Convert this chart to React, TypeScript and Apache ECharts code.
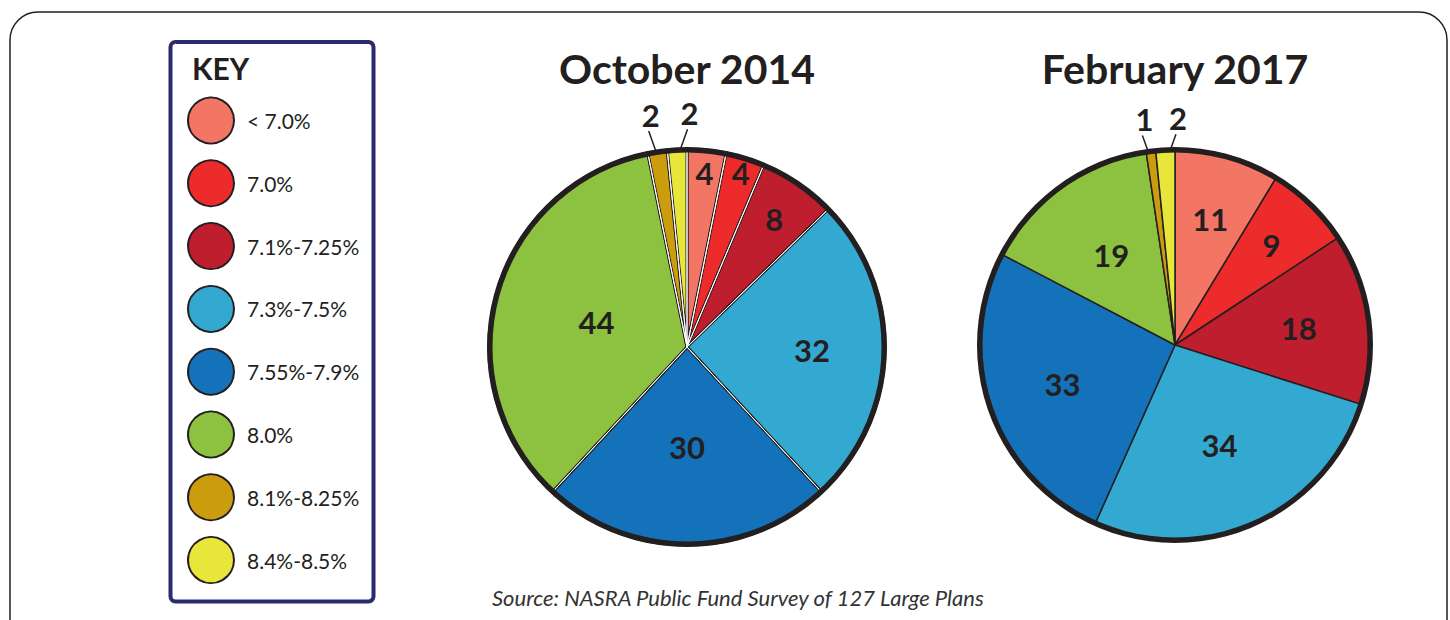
import { useEffect, useRef } from 'react';
import * as echarts from 'echarts';

// ---- data ----
const categories = ['< 7.0%', '7.0%', '7.1%-7.25%', '7.3%-7.5%', '7.55%-7.9%', '8.0%', '8.1%-8.25%', '8.4%-8.5%'];
const oct2014 = [4, 4, 8, 32, 30, 44, 2, 2];
const feb2017 = [11, 9, 18, 34, 33, 19, 1, 2];
const chartTitles = ['October 2014', 'February 2017'];
const keyTitle = 'KEY';
const sourceNote = 'Source: NASRA Public Fund Survey of 127 Large Plans';

// ---- styles / layout ----
const colors = ['#F37564', '#EE2B2B', '#BE1E2D', '#33A9D1', '#1372B9', '#8CC23F', '#CB9C0D', '#E8E53B'];
const INK = '#231F20';
const NAVY = '#2A2A6E';
const FONT = 'Lato, "Open Sans", sans-serif';
const CLEAR = 'rgba(0,0,0,0)';

type PieLayout = {
  values: number[];
  title: string;
  cx: number;
  cy: number;
  R: number;
  doubleSep: boolean;
  insideDist: (number | null)[]; // label distance from centre (px), null => outside label
  outsideR: number;
};

const pies: PieLayout[] = [
  { values: oct2014, title: chartTitles[0], cx: 687, cy: 347, R: 200, doubleSep: true,
    insideDist: [175, 182, 155, 125, 100, 94, null, null], outsideR: 190 },
  { values: feb2017, title: chartTitles[1], cx: 1175, cy: 345, R: 198, doubleSep: false,
    insideDist: [131, 139, 125, 109, 119, 110, null, null], outsideR: 183 },
];

const numLabel = { fontFamily: FONT, fontSize: 31, fontWeight: 'bold' as const, color: INK };

function buildSeries(p: PieLayout) {
  const data = p.values.map((v, i) => ({ name: categories[i], value: v }));
  const base: any = {
    type: 'pie',
    center: [p.cx, p.cy],
    startAngle: 90,
    clockwise: true,
    silent: true,
    avoidLabelOverlap: false,
    emphasis: { disabled: true },
    label: { show: false },
    labelLine: { show: false },
  };
  const out: any[] = [];
  out.push({
    ...base,
    name: p.title,
    radius: [0, p.R - 2],
    data: data.map((d, i) => ({ ...d, itemStyle: { color: colors[i] } })),
    itemStyle: { borderColor: INK, borderWidth: p.doubleSep ? 3 : 1.5 },
  });
  if (p.doubleSep) {
    out.push({
      ...base,
      radius: [0, p.R - 2],
      data,
      itemStyle: { color: CLEAR, borderColor: '#ffffff', borderWidth: 1 },
    });
  }
  out.push({
    ...base,
    radius: [p.R - 5.5, p.R],
    data: [{ name: '', value: 1 }],
    itemStyle: { color: INK, borderWidth: 0 },
  });
  p.insideDist.forEach((d, i) => {
    if (d == null) return;
    out.push({
      ...base,
      radius: [0, 2 * (d - 3)],
      data: data.map((dd, j) => ({ ...dd, label: { show: j === i } })),
      itemStyle: { color: CLEAR, borderWidth: 0 },
      label: { show: false, position: 'inside', formatter: '{c}', ...numLabel },
    });
  });
  const small = p.insideDist.map((d, i) => (d == null ? i : -1)).filter((i) => i >= 0);
  out.push({
    ...base,
    radius: [0, p.outsideR],
    data: data.map((dd, j) => ({
      ...dd,
      label: { show: small.includes(j) },
      labelLine: { show: small.includes(j) },
    })),
    itemStyle: { color: CLEAR, borderWidth: 0 },
    label: { show: false, position: 'outside', formatter: '{c}', ...numLabel },
    labelLine: { show: false, length: 20, length2: 0, lineStyle: { color: INK, width: 1.5 } },
    labelLayout: (params: any) => {
      const k = small.indexOf(params.dataIndex);
      if (k < 0 || !params.labelLinePoints) return {};
      const p0 = params.labelLinePoints[0];
      const side = k === 0 ? -1 : 1;
      const top = [p0[0] + side * 10, p0[1] - 28];
      return {
        x: top[0] + 2,
        y: top[1] - 1,
        align: 'center',
        verticalAlign: 'bottom',
        labelLinePoints: [p0, top],
      };
    },
  });
  return out;
}

export default function App() {
  const ref = useRef<HTMLDivElement>(null);
  useEffect(() => {
    if (!ref.current) return;
    const chart = echarts.init(ref.current, undefined, { renderer: 'svg' });
    const series = pies.flatMap(buildSeries);
    chart.setOption({
      animation: false,
      legend: {
        data: categories,
        orient: 'vertical',
        left: 187,
        top: 96.5,
        padding: 0,
        icon: 'circle',
        itemWidth: 46,
        itemHeight: 46,
        itemGap: 14.8,
        selectedMode: false,
        itemStyle: { borderColor: INK, borderWidth: 2 },
        textStyle: { fontFamily: FONT, fontSize: 21, color: INK, padding: [0, 0, 0, 8] },
      },
      graphic: [
        {
          type: 'rect',
          silent: true,
          z: -10,
          shape: { x: 10, y: 12, width: 1437, height: 640, r: 28 },
          style: { fill: 'none', stroke: INK, lineWidth: 1.5 },
        },
        {
          type: 'rect',
          silent: true,
          z: -10,
          shape: { x: 170.5, y: 42, width: 203, height: 559.5, r: 5 },
          style: { fill: '#ffffff', stroke: NAVY, lineWidth: 4 },
        },
        {
          type: 'text',
          x: 192,
          y: 68,
          style: { text: keyTitle, fontFamily: FONT, fontSize: 30, fontWeight: 'bold', fill: INK,
            align: 'left', verticalAlign: 'middle', textAlign: 'left', textVerticalAlign: 'middle' },
        },
        ...pies.map((p) => ({
          type: 'text',
          x: p.cx,
          y: 68,
          style: { text: p.title, fontFamily: FONT, fontSize: 41, fontWeight: 'bold', fill: INK,
            align: 'center', verticalAlign: 'middle', textAlign: 'center', textVerticalAlign: 'middle' },
        })),
        {
          type: 'text',
          x: 492,
          y: 597,
          style: { text: sourceNote, fontFamily: FONT, fontSize: 22, fontStyle: 'italic', fill: '#333333',
            align: 'left', verticalAlign: 'middle', textAlign: 'left', textVerticalAlign: 'middle' },
        },
      ],
      series,
    });
    return () => chart.dispose();
  }, []);
  return (
    <div
      ref={ref}
      style={{ position: 'fixed', left: 0, top: 0, width: 1450, height: 620, background: '#ffffff' }}
    />
  );
}
